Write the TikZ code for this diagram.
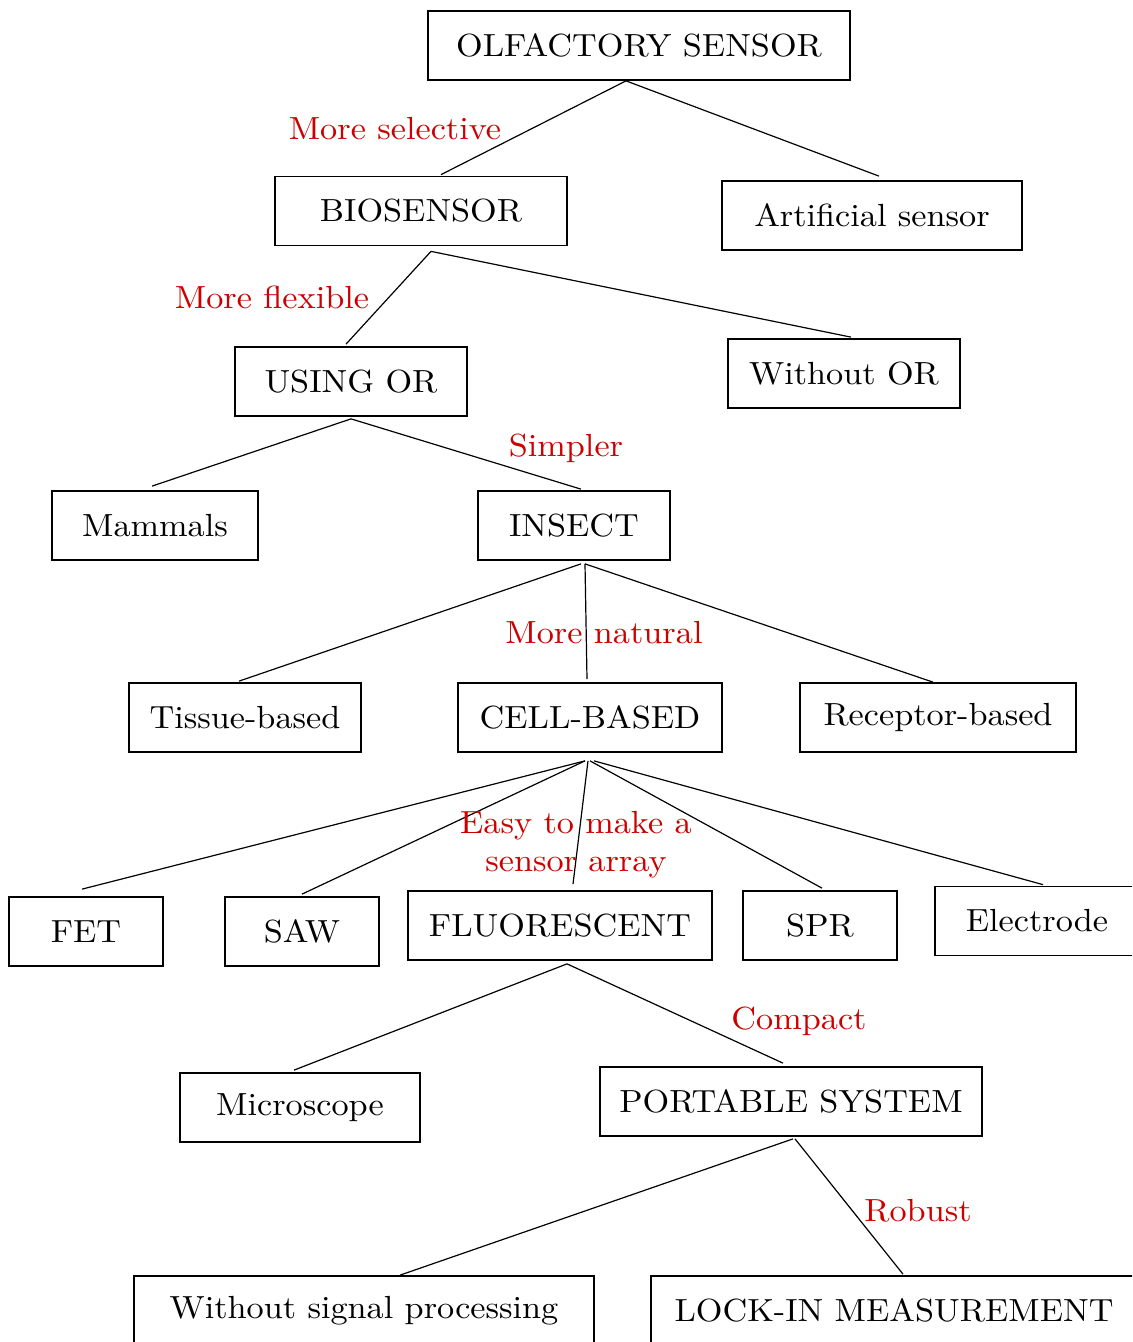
\documentclass[tikz,border=0pt]{standalone}
\usepackage{fontspec}
\setmainfont{lmroman10-regular.otf}[FakeStretch=1.07]
\usetikzlibrary{calc}
\definecolor{labred}{RGB}{204,0,0}
\begin{document}
\begin{tikzpicture}[x=0.75pt,y=-0.75pt,
  box/.style={draw, line width=1.3pt, minimum height=51.75pt, inner sep=0pt, font=\fontsize{24}{28}\selectfont},
  link/.style={line width=0.9pt},
  lab/.style={text=labred, inner sep=0pt, font=\fontsize{24}{28.5}\selectfont, align=center}]
\useasboundingbox (0,0) rectangle (1132,1342);
\clip (0,0) rectangle (1132,1342);
\fill[white] (0,0) rectangle (1132,1342);
% nodes
\node[box, minimum width=316.5pt] (olf) at (639,45.5) {OLFACTORY SENSOR};
\node[box, minimum width=219pt] (bio) at (421,211) {BIOSENSOR};
\node[box, minimum width=225pt] (art) at (872,215.5) {Artificial sensor};
\node[box, minimum width=174pt] (using) at (351,381.5) {USING OR};
\node[box, minimum width=174pt] (wor) at (844,373.5) {Without OR};
\node[box, minimum width=154.5pt] (mam) at (155,525.5) {Mammals};
\node[box, minimum width=144pt] (ins) at (574,525.5) {INSECT};
\node[box, minimum width=174pt] (tis) at (245,717.5) {Tissue-based};
\node[box, minimum width=198pt] (cell) at (590,717.5) {CELL-BASED};
\node[box, minimum width=207pt] (rec) at (938,717.5) {Receptor-based};
\node[box, minimum width=115.5pt] (fet) at (86,931.5) {FET};
\node[box, minimum width=115.5pt] (saw) at (302,931.5) {SAW};
\node[box, minimum width=228pt] (flu) at (560,925.5) {FLUORESCENT};
\node[box, minimum width=115.5pt] (spr) at (820,925.5) {SPR};
\node[box, minimum width=153pt] (ele) at (1037,921) {Electrode};
\node[box, minimum width=180pt] (mic) at (300,1107.5) {Microscope};
\node[box, minimum width=286.5pt] (port) at (791,1101.5) {PORTABLE SYSTEM};
\node[box, minimum width=345pt] (wsp) at (364,1310.5) {Without signal processing};
\node[box, minimum width=364.5pt] (lock) at (894,1310.5) {LOCK-IN MEASUREMENT};
% connectors
\draw[link] ($(olf.south)+(-13,0)$) -- ($(bio.north)+(20,-1)$);
\draw[link] ($(olf.south)+(-13,0)$) -- ($(art.north)+(7,-4)$);
\draw[link] ($(bio.south)+(10,5)$) -- ($(using.north)+(-5,-2)$);
\draw[link] ($(bio.south)+(10,5)$) -- ($(wor.north)+(7,-1)$);
\draw[link] ($(using.south)+(0,2)$) -- ($(mam.north)+(-3,-4)$);
\draw[link] ($(using.south)+(0,2)$) -- ($(ins.north)+(7,-1)$);
\draw[link] ($(ins.south)+(7,3)$) -- ($(tis.north)+(-6,-1)$);
\draw[link] ($(ins.south)+(11,3)$) -- ($(cell.north)+(-3,-3)$);
\draw[link] ($(ins.south)+(11,3)$) -- ($(rec.north)+(-5,0)$);
\draw[link] ($(cell.south)+(-5,8)$) -- ($(fet.north)+(-4,-7)$);
\draw[link] ($(cell.south)+(-5,8)$) -- ($(saw.north)+(0,-2)$);
\draw[link] ($(cell.south)+(-2,8)$) -- ($(flu.north)+(13,-6)$);
\draw[link] ($(cell.south)+(0,8)$) -- ($(spr.north)+(2,-2)$);
\draw[link] ($(cell.south)+(4,8)$) -- ($(ele.north)+(6,-1)$);
\draw[link] ($(flu.south)+(7,3)$) -- ($(mic.north)+(-6,-2)$);
\draw[link] ($(flu.south)+(7,3)$) -- ($(port.north)+(-8,-3)$);
\draw[link] ($(port.south)+(2,2)$) -- ($(wsp.north)+(36,0)$);
\draw[link] ($(port.south)+(4,2)$) -- ($(lock.north)+(9,-1)$);
% labels
\node[lab] (l1) at (395,129) {More selective};
\node[lab] (l2) at (272,297) {More flexible};
\node[lab] (l3) at (566,448) {Simpler};
\node[lab] (l4) at (604,633) {More natural};
\node[lab] (l5) at (576,845) {Easy to make a\\sensor array};
\node[lab] (l6) at (799,1021) {Compact};
\node[lab] (l7) at (918,1211) {Robust};
\end{tikzpicture}
\end{document}
